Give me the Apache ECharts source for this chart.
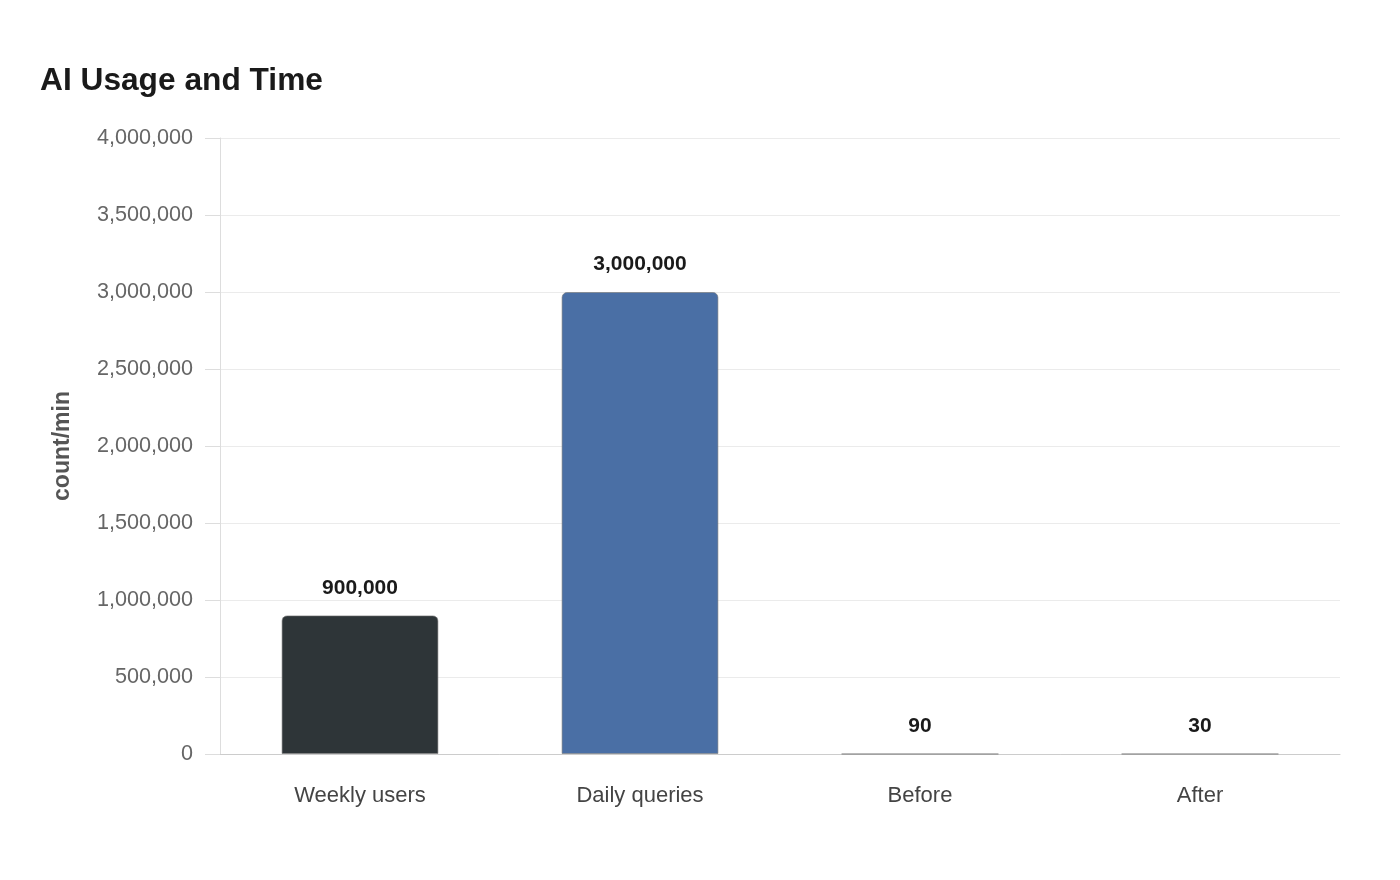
<!DOCTYPE html>
<html lang="en">
<head>
    <meta charset="UTF-8">
    <title>AI Usage and Time</title>
    <script src="https://cdn.jsdelivr.net/npm/echarts@6/dist/echarts.min.js"></script>
    <style>
        html, body { margin: 0; padding: 0; background: #fff; }
        #chart { width: 1400px; height: 880px; }
    </style>
</head>
<body>
<div id="chart"></div>
<script type="text/javascript">
    // data
    const categories = ["Weekly users", "Daily queries", "Before", "After"];
    const values = [900000, 3000000, 90, 30];
    const bar_colors = ["#2e3538", "#4a6fa5", "#4a6fa5", "#9a9a9a"];
    const y_ticks = [0, 500000, 1000000, 1500000, 2000000, 2500000, 3000000, 3500000, 4000000];

    const font = "Liberation Sans, Arial, sans-serif";
    const chart = echarts.init(document.getElementById("chart"));

    chart.setOption({
        animation: false,
        title: {
            text: "AI Usage and Time",
            left: 35,
            top: 60,
            textStyle: {fontFamily: font, fontSize: 31.7, fontWeight: "bold", color: "#1a1a1a"}
        },
        grid: {left: 220, right: 60, top: 138, bottom: 126, containLabel: false},
        xAxis: {
            type: "category",
            data: categories,
            axisLine: {lineStyle: {color: "#cccccc", width: 1}},
            axisTick: {show: false},
            axisLabel: {fontFamily: font, fontSize: 22, color: "#444", margin: 31}
        },
        yAxis: {
            type: "value",
            min: y_ticks[0],
            max: y_ticks[y_ticks.length - 1],
            interval: y_ticks[1] - y_ticks[0],
            name: "count/min",
            nameLocation: "middle",
            nameGap: 146,
            nameRotate: 90,
            nameTextStyle: {fontFamily: font, fontSize: 23, fontWeight: "bold", color: "#555"},
            axisLine: {show: true, lineStyle: {color: "#dddddd"}},
            axisTick: {show: true, length: 15, lineStyle: {color: "#dddddd"}},
            splitLine: {lineStyle: {color: "#ebebeb"}},
            axisLabel: {
                fontFamily: font, fontSize: 21.6, color: "#666", margin: 27,
                formatter: (v) => v.toLocaleString("en-US")
            }
        },
        series: [{
            type: "bar",
            barWidth: "56%",
            data: values.map((v, i) => ({
                value: v,
                itemStyle: {
                    color: bar_colors[i],
                    borderColor: "rgba(120,120,120,0.6)",
                    borderWidth: 1,
                    borderRadius: [5, 5, 0, 0]
                }
            })),
            label: {
                show: true,
                position: "top",
                distance: 17,
                fontFamily: font,
                fontSize: 21,
                fontWeight: "bold",
                color: "#1a1a1a",
                formatter: (p) => p.value.toLocaleString("en-US")
            }
        }]
    });
</script>
</body>
</html>
